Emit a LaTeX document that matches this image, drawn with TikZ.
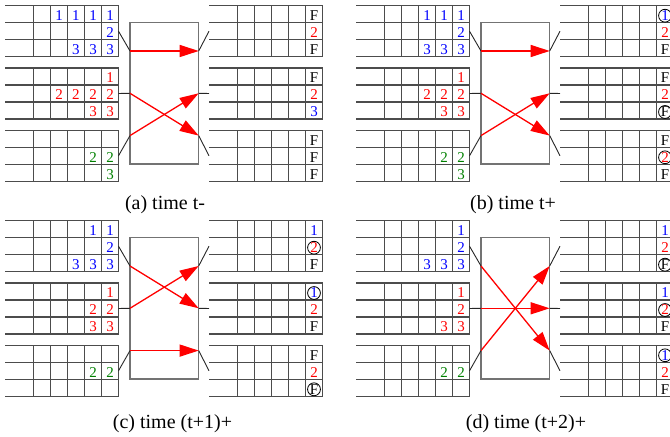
\documentclass[tikz,border=0pt]{standalone}
\usepackage{fontspec}
\setmainfont{Liberation Serif}
\usetikzlibrary{arrows.meta}
\definecolor{pgreen}{RGB}{0,128,0}
\tikzstyle{grid} = [line width=0.6pt, draw=black!70]
\tikzstyle{port} = [line width=0.45pt, draw=black!85]
\tikzstyle{switch} = [rectangle, draw=black!55, line width=0.6pt, minimum width=34.35pt, minimum height=70.85pt, inner sep=0pt]
\tikzstyle{arrow} = [line width=0.65pt, red, -{Triangle[length=9.5pt, width=6pt]}]
\tikzstyle{digit} = [inner sep=0pt, font=\fontsize{7.5}{9}\selectfont]
\tikzstyle{plain} = []
\tikzstyle{ring} = [circle, draw=black, line width=0.4pt, minimum size=6.4pt]
\tikzstyle{caption} = [font=\fontsize{10}{12}\selectfont]

% one panel: name, x shift, y shift, input rows, output cells, arrows
\newcommand{\swpanel}[6]{%
  \begin{scope}[shift={(#2,#3)}]
    \foreach \g in {1,2,3} {
      \pgfmathsetmacro{\gtop}{-56.6+62.3*\g}
      \foreach \r in {0,...,3} {
        \draw[grid] (5,\gtop+17*\r) -- (118.5,\gtop+17*\r);
        \draw[grid] (209,\gtop+17*\r) -- (322.5,\gtop+17*\r);
      }
      \foreach \c in {0,...,5} {
        \draw[grid] (33.5+17*\c,\gtop) -- (33.5+17*\c,\gtop+51);
        \draw[grid] (237.5+17*\c,\gtop) -- (237.5+17*\c,\gtop+51);
      }
      \coordinate (#1gi\g) at (118.5,\gtop+25.5);
      \coordinate (#1go\g) at (209,\gtop+25.5);
      \coordinate (#1L\g) at (130,{93.3+42.3*(\g-2)});
      \coordinate (#1R\g) at (198.7,{93.3+42.3*(\g-2)});
    }
    \node[switch] (#1sw) at (164.35,93.15) {};
    \foreach \g in {1,2,3} {
      \draw[port] (#1gi\g) -- (#1L\g);
      \draw[port] (#1R\g) -- (#1go\g);
    }
    % queued cells, filled from the right
    \foreach \g/\r/\n/\col in {#4}
      \foreach \c in {1,...,\n}
        \node[digit, text=\col] (#1i\g\r\c) at ({127-17*\c},{-63.6+62.3*\g+17*\r}) {\r};
    % last column of the outputs
    \foreach \g/\r/\t/\col/\sty in {#5}
      \node[digit, text=\col, \sty] (#1o\g\r) at (314,{-63.6+62.3*\g+17*\r}) {\t};
    \foreach \a/\b in {#6}
      \draw[arrow] (#1L\a) -- (#1R\b);
  \end{scope}
}

\begin{document}
\begin{tikzpicture}[x=0.5pt, y=-0.5pt]
  \useasboundingbox (0,0) rectangle (670,437);

  \swpanel{a}{0}{0}
    {1/1/4/blue, 1/2/1/blue, 1/3/3/blue, 2/1/1/red, 2/2/4/red, 2/3/2/red, 3/2/2/pgreen, 3/3/1/pgreen}
    {1/1/F/black/plain, 1/2/2/red/plain, 1/3/F/black/plain, 2/1/F/black/plain, 2/2/2/red/plain, 2/3/3/blue/plain, 3/1/F/black/plain, 3/2/F/black/plain, 3/3/F/black/plain}
    {1/1, 2/3, 3/2}
  \swpanel{b}{351}{0}
    {1/1/3/blue, 1/2/1/blue, 1/3/3/blue, 2/1/1/red, 2/2/3/red, 2/3/2/red, 3/2/2/pgreen, 3/3/1/pgreen}
    {1/1/1/blue/ring, 1/2/2/red/plain, 1/3/F/black/plain, 2/1/F/black/plain, 2/2/2/red/plain, 2/3/F/black/ring, 3/1/F/black/plain, 3/2/2/red/ring, 3/3/F/black/plain}
    {1/1, 2/3, 3/2}
  \swpanel{c}{0}{215}
    {1/1/2/blue, 1/2/1/blue, 1/3/3/blue, 2/1/1/red, 2/2/2/red, 2/3/2/red, 3/2/2/pgreen}
    {1/1/1/blue/plain, 1/2/2/red/ring, 1/3/F/black/plain, 2/1/1/blue/ring, 2/2/2/red/plain, 2/3/F/black/plain, 3/1/F/black/plain, 3/2/2/red/plain, 3/3/F/black/ring}
    {1/2, 2/1, 3/3}
  \swpanel{d}{351}{215}
    {1/1/1/blue, 1/2/1/blue, 1/3/3/blue, 2/1/1/red, 2/2/1/red, 2/3/2/red, 3/2/2/pgreen}
    {1/1/1/blue/plain, 1/2/2/red/plain, 1/3/F/black/ring, 2/1/1/blue/plain, 2/2/2/red/ring, 2/3/F/black/plain, 3/1/1/blue/ring, 3/2/2/red/plain, 3/3/F/black/plain}
    {1/3, 2/2, 3/1}

  \node[caption] (capa) at (165,205) {(a) time t-};
  \node[caption] (capb) at (513,205) {(b) time t+};
  \node[caption] (capc) at (172.5,424) {(c) time (t+1)+};
  \node[caption] (capd) at (526,424) {(d) time (t+2)+};
\end{tikzpicture}
\end{document}
